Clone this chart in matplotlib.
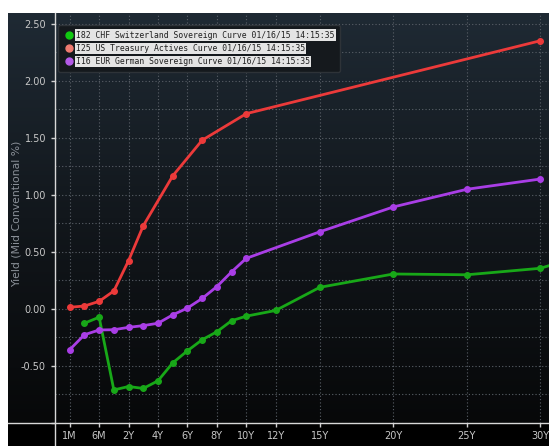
import numpy as np
import matplotlib
matplotlib.use("Agg")
import matplotlib.pyplot as plt
from matplotlib.lines import Line2D
from matplotlib.colors import LinearSegmentedColormap

# tenors in years
chf_tenor = [0.25, 0.5, 1, 2, 3, 4, 5, 6, 7, 8, 9, 10, 12, 15, 20, 25, 30, 50]
chf_yield = [-0.125, -0.072, -0.71, -0.68, -0.697, -0.63, -0.473, -0.367, -0.27,
             -0.20, -0.103, -0.063, -0.013, 0.19, 0.307, 0.30, 0.357, 1.15]

us_tenor = [1/12, 0.25, 0.5, 1, 2, 3, 5, 7, 10, 30]
us_yield = [0.015, 0.026, 0.067, 0.158, 0.424, 0.73, 1.167, 1.48, 1.713, 2.353]

de_tenor = [1/12, 0.25, 0.5, 1, 2, 3, 4, 5, 6, 7, 8, 9, 10, 15, 20, 25, 30]
de_yield = [-0.357, -0.226, -0.184, -0.182, -0.161, -0.146, -0.125, -0.052, 0.008,
            0.092, 0.196, 0.325, 0.444, 0.677, 0.895, 1.05, 1.14]

tick_tenor = [1/12, 0.5, 2, 4, 6, 8, 10, 12, 15, 20, 25, 30]
tick_label = ["1M", "6M", "2Y", "4Y", "6Y", "8Y", "10Y", "12Y", "15Y", "20Y", "25Y", "30Y"]

labels = ["I82 CHF Switzerland Sovereign Curve 01/16/15 14:15:35",
          "I25 US Treasury Actives Curve 01/16/15 14:15:35",
          "I16 EUR German Sovereign Curve 01/16/15 14:15:35"]

# Bloomberg-like tenor axis: short end evenly spaced, linear in years from 2Y
yr_knots = [0, 1/12, 0.25, 0.5, 1, 2, 60]
u_knots = [-1, 0, 1, 2, 3, 4, 62]
fwd = lambda x: np.interp(x, yr_knots, u_knots)
inv = lambda u: np.interp(u, u_knots, yr_knots)

W, H = 549, 446
fig = plt.figure(figsize=(W / 100, H / 100), dpi=100, facecolor="white")

# dark gradient background, black strip under the x axis
bg = fig.add_axes([8 / W, 0, 1 - 8 / W, (H - 13) / H])
split = (H - 423) / (H - 13)
grad = np.linspace(0, 1, 256).reshape(-1, 1)
cmap = LinearSegmentedColormap.from_list("bb", ["#1f2a34", "#12171c", "#070809"])
bg.imshow(grad, aspect="auto", cmap=cmap, extent=[0, 1, split, 1], origin="upper")
bg.axhspan(0, split, color="black")
bg.set_xlim(0, 1)
bg.set_ylim(0, 1)
bg.axis("off")

ax = fig.add_axes([55 / W, (H - 423) / H, 1 - 55 / W, (423 - 13) / H])
ax.set_facecolor("none")
ax.set_xscale("function", functions=(fwd, inv))
ax.set_xlim(0, 30.58)
ax.set_ylim(-1.0, 2.596)

ax.plot(chf_tenor, chf_yield, color="#18a818", lw=2.0, marker="o", ms=4, zorder=3)
ax.plot(us_tenor, us_yield, color="#ec3a3a", lw=2.0, marker="o", ms=4, zorder=3)
ax.plot(de_tenor, de_yield, color="#a93ee6", lw=2.0, marker="o", ms=4, zorder=3)

ax.set_xticks(tick_tenor)
ax.set_xticklabels(tick_label)
ax.set_yticks(np.arange(-1.0, 2.51, 0.25), minor=True)
yt = np.arange(-1.0, 2.51, 0.5)
ax.set_yticks(yt)
ax.set_yticklabels(["" if v < -0.75 else f"{v:.2f}" for v in yt])
ax.grid(True, which="both", color="#5a6068", ls=(0, (1, 2)), lw=0.8)
ax.tick_params(axis="both", colors="#d0d0d0", labelsize=7, length=3, width=1)
ax.tick_params(axis="y", which="minor", length=0)
ax.tick_params(axis="y", labelcolor="#c8c8c8")
ax.tick_params(axis="x", labelcolor="#c8c8c8", pad=3)
for s in ax.spines.values():
    s.set_visible(False)

ax.set_ylabel("Yield (Mid Conventional %)", color="#8a9098", fontsize=7.8)
ax.yaxis.set_label_coords(-0.068, 0.51)
ax.set_xlabel("Tenor", color="#c8c8c8", fontsize=8.5)
ax.xaxis.set_label_coords(0.80, -0.072)

# axis lines extending into the margins
fig.add_artist(Line2D([8 / W, 1], [(H - 423) / H] * 2, color="#d8d8d8", lw=1))
fig.add_artist(Line2D([55 / W] * 2, [0, (H - 13) / H], color="#d8d8d8", lw=1))

handles = [Line2D([], [], marker="o", ls="none", color=c, ms=5)
           for c in ["#10c810", "#f07a70", "#b45ae8"]]
leg = ax.legend(handles, labels, loc="upper left", bbox_to_anchor=(0.006, 0.971),
                borderaxespad=0, handletextpad=0.3, handlelength=1.2,
                labelspacing=0.5, borderpad=0.7, fancybox=True,
                prop={"family": "DejaVu Sans Mono", "size": 5.9})
leg.get_frame().set_facecolor("#15191d")
leg.get_frame().set_edgecolor("#2e3338")
leg.get_frame().set_alpha(1)
for t in leg.get_texts():
    t.set_color("#202020")
    t.set_bbox(dict(facecolor="#e4e4e4", edgecolor="none", pad=0.8))

fig.savefig("out.png", dpi=100, facecolor="white")
